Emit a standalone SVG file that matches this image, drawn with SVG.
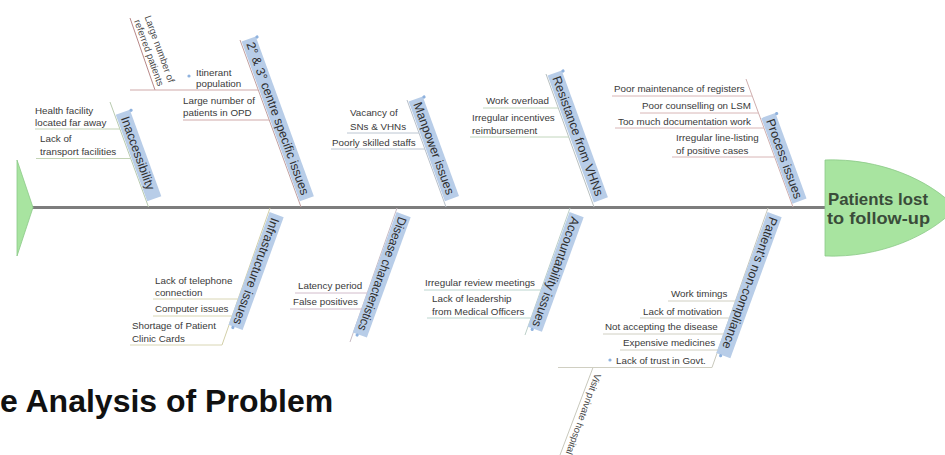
<svg xmlns="http://www.w3.org/2000/svg" width="945" height="455" viewBox="0 0 945 455">
<style>
.sc{font-family:"Liberation Sans",Arial,sans-serif;font-size:9.8px;fill:#3a3a3a}
.ssc{font-family:"Liberation Sans",Arial,sans-serif;font-size:9.6px;fill:#4a4a4a}
.lbl{font-family:"Liberation Sans",Arial,sans-serif;font-size:12.5px;fill:#2f2f2f}
.box{fill:#b8cde8}
.dot{fill:#8fb2de}
.ln{fill:none;stroke-width:1}
.hd{font-family:"Liberation Sans",Arial,sans-serif;font-size:17px;font-weight:bold;fill:#3a4c3a}
.ttl{font-family:"Liberation Sans",Arial,sans-serif;font-size:32px;font-weight:bold;fill:#111}
</style>
<rect width="945" height="455" fill="#ffffff"/>

<g id="connectors">
  <line x1="32" y1="207.5" x2="826" y2="207.5" stroke="#7d7d7d" stroke-width="3"/>
  <line class="ln" x1="110" y1="102" x2="148.5" y2="207" stroke="#b9cbb0"/>
  <line class="ln" x1="240" y1="40" x2="301" y2="207" stroke="#c2a0a0"/>
  <line class="ln" x1="407" y1="100" x2="446" y2="207" stroke="#b8c0ca"/>
  <line class="ln" x1="546" y1="74" x2="594" y2="207" stroke="#b8c0c0"/>
  <line class="ln" x1="746" y1="79" x2="793" y2="207" stroke="#cfaeae"/>
  <line class="ln" x1="270" y1="208" x2="222" y2="345" stroke="#d2cfa8"/>
  <line class="ln" x1="397" y1="208" x2="350" y2="342" stroke="#c9bcc4"/>
  <line class="ln" x1="570" y1="208" x2="525" y2="335" stroke="#bccfc8"/>
  <line class="ln" x1="768" y1="208" x2="712" y2="367.5" stroke="#c8c8bc"/>
  <line class="ln" x1="130" y1="18" x2="155" y2="90" stroke="#b88888"/>
  <line class="ln" x1="593" y1="367.5" x2="560" y2="455" stroke="#c8c8bc"/>
</g>

<g id="tail">
  <polygon points="17,160 33,207.5 17,256" fill="#a8e4a0" stroke="#8cc988" stroke-width="0.8"/>
</g>

<g id="head">
  <path d="M825,160 C880,158 930,180 956,208 C930,236 880,258 825,256 Z" fill="#a8e4a0" stroke="#8cc988" stroke-width="0.8"/>
  <text class="hd" x="828" y="205" textLength="100" lengthAdjust="spacingAndGlyphs">Patients lost</text>
  <text class="hd" x="827" y="224" textLength="103" lengthAdjust="spacingAndGlyphs">to follow-up</text>
</g>

<g id="inaccessibility">
  <g transform="translate(110,102) rotate(70)">
    <rect class="box" x="14" y="-16" width="92" height="15"/>
    <circle class="dot" cx="15" cy="-17" r="1.6"/>
    <text class="lbl" x="19" y="-4.5">Inaccessibility</text>
  </g>
  <g id="c-health-facility">
    <text class="sc" x="35" y="113.5">Health facility</text>
    <text class="sc" x="35" y="125.5">located far away</text>
    <line class="ln" x1="35" y1="129" x2="120" y2="129" stroke="#c3d3b5"/>
  </g>
  <g id="c-transport">
    <text class="sc" x="40" y="142">Lack of</text>
    <text class="sc" x="40" y="154.5">transport facilities</text>
    <line class="ln" x1="36" y1="158.5" x2="130.5" y2="158.5" stroke="#c3d3b5"/>
  </g>
</g>

<g id="centre-issues">
  <g transform="translate(240,40) rotate(70)">
    <rect class="box" x="2" y="-16" width="170" height="15"/>
    <circle class="dot" cx="3" cy="-17" r="1.6"/>
    <text class="lbl" x="6" y="-4.5">2° &amp; 3° centre specific issues</text>
  </g>
  <g id="c-itinerant">
    <circle class="dot" cx="189" cy="76" r="1.6"/>
    <text class="sc" x="196" y="76">Itinerant</text>
    <text class="sc" x="196" y="87">population</text>
    <line class="ln" x1="130" y1="90" x2="258" y2="90" stroke="#cfa9a9"/>
  </g>
  <g id="c-referred">
    <text class="ssc" transform="translate(144.5,17) rotate(70)">Large number of</text>
    <text class="ssc" transform="translate(134,21) rotate(70)">referred patients</text>
  </g>
  <g id="c-opd">
    <text class="sc" x="183" y="104">Large number of</text>
    <text class="sc" x="183" y="116">patients in OPD</text>
    <line class="ln" x1="183" y1="120" x2="269" y2="120" stroke="#cfa9a9"/>
  </g>
</g>

<g id="manpower">
  <g transform="translate(407,100) rotate(70)">
    <rect class="box" x="2" y="-16" width="106" height="15"/>
    <circle class="dot" cx="3" cy="-17" r="1.6"/>
    <text class="lbl" x="6" y="-4.5">Manpower issues</text>
  </g>
  <g id="c-vacancy">
    <text class="sc" x="350" y="116">Vacancy of</text>
    <text class="sc" x="350" y="130">SNs &amp; VHNs</text>
    <line class="ln" x1="347" y1="133" x2="419" y2="133" stroke="#bcc6d2"/>
  </g>
  <g id="c-poorly-skilled">
    <text class="sc" x="332" y="145.5">Poorly skilled staffs</text>
    <line class="ln" x1="331" y1="149" x2="425" y2="149" stroke="#bcc6d2"/>
  </g>
</g>

<g id="resistance">
  <g transform="translate(546,74) rotate(70)">
    <rect class="box" x="2" y="-16" width="135" height="15"/>
    <circle class="dot" cx="3" cy="-17" r="1.6"/>
    <text class="lbl" x="6" y="-4.5">Resistance from VHNs</text>
  </g>
  <g id="c-work-overload">
    <text class="sc" x="486" y="104">Work overload</text>
    <line class="ln" x1="483" y1="108" x2="558" y2="108" stroke="#c2d6bd"/>
  </g>
  <g id="c-incentives">
    <text class="sc" x="472" y="120.5">Irregular incentives</text>
    <text class="sc" x="472" y="133.5">reimbursement</text>
    <line class="ln" x1="470" y1="137" x2="569" y2="137" stroke="#c2d6bd"/>
  </g>
</g>

<g id="process">
  <g transform="translate(746,79) rotate(70)">
    <rect class="box" x="42" y="-16" width="91" height="15"/>
    <circle class="dot" cx="43" cy="-17" r="1.6"/>
    <text class="lbl" x="46" y="-4.5">Process issues</text>
  </g>
  <g id="c-registers">
    <text class="sc" x="614" y="92">Poor maintenance of registers</text>
    <line class="ln" x1="612" y1="96" x2="752" y2="96" stroke="#d8b6b6"/>
  </g>
  <g id="c-counselling">
    <text class="sc" x="642" y="108.5">Poor counselling on LSM</text>
    <line class="ln" x1="640" y1="113" x2="758" y2="113" stroke="#d8b6b6"/>
  </g>
  <g id="c-documentation">
    <text class="sc" x="618" y="125">Too much documentation work</text>
    <line class="ln" x1="615" y1="128" x2="764" y2="128" stroke="#d8b6b6"/>
  </g>
  <g id="c-line-listing">
    <text class="sc" x="676" y="141">Irregular line-listing</text>
    <text class="sc" x="676" y="154">of positive cases</text>
    <line class="ln" x1="672" y1="157" x2="774" y2="157" stroke="#d8b6b6"/>
  </g>
</g>

<g id="infrastructure">
  <g transform="translate(270,208) rotate(110)">
    <rect class="box" x="4" y="-16" width="120" height="15"/>
    <circle class="dot" cx="125" cy="-6" r="1.6"/>
    <text class="lbl" x="8" y="-4.5">Infrastructure issues</text>
  </g>
  <g id="c-telephone">
    <text class="sc" x="155" y="283.5">Lack of telephone</text>
    <text class="sc" x="155" y="296">connection</text>
    <line class="ln" x1="153" y1="299" x2="238" y2="299" stroke="#d9d6b4"/>
  </g>
  <g id="c-computer">
    <text class="sc" x="155" y="311.5">Computer issues</text>
    <line class="ln" x1="153" y1="316" x2="232" y2="316" stroke="#d9d6b4"/>
  </g>
  <g id="c-clinic-cards">
    <text class="sc" x="132" y="328.5">Shortage of Patient</text>
    <text class="sc" x="132" y="341.5">Clinic Cards</text>
    <line class="ln" x1="130" y1="345" x2="222" y2="345" stroke="#d9d6b4"/>
  </g>
</g>

<g id="disease">
  <g transform="translate(397,208) rotate(110)">
    <rect class="box" x="4" y="-16" width="128" height="15"/>
    <circle class="dot" cx="133" cy="-6" r="1.6"/>
    <text class="lbl" x="7" y="-4.5" textLength="120" lengthAdjust="spacingAndGlyphs">Disease characteristics</text>
  </g>
  <g id="c-latency">
    <text class="sc" x="298" y="288.5">Latency period</text>
    <line class="ln" x1="295" y1="293" x2="367" y2="293" stroke="#d2bccb"/>
  </g>
  <g id="c-false-positives">
    <text class="sc" x="293" y="304.5">False positives</text>
    <line class="ln" x1="290" y1="309" x2="362" y2="309" stroke="#d2bccb"/>
  </g>
</g>

<g id="accountability">
  <g transform="translate(570,208) rotate(110)">
    <rect class="box" x="4" y="-16" width="122" height="15"/>
    <circle class="dot" cx="127" cy="-6" r="1.6"/>
    <text class="lbl" x="7" y="-4.5">Accountability issues</text>
  </g>
  <g id="c-review">
    <text class="sc" x="425" y="285.5">Irregular review meetings</text>
    <line class="ln" x1="424" y1="290" x2="541" y2="290" stroke="#bcd6cf"/>
  </g>
  <g id="c-leadership">
    <text class="sc" x="432" y="301.5">Lack of leadership</text>
    <text class="sc" x="432" y="314.5">from Medical Officers</text>
    <line class="ln" x1="427" y1="318" x2="531" y2="318" stroke="#bcd6cf"/>
  </g>
</g>

<g id="non-compliance">
  <g transform="translate(768,208) rotate(110)">
    <rect class="box" x="4" y="-16" width="150" height="15"/>
    <circle class="dot" cx="155" cy="-6" r="1.6"/>
    <text class="lbl" x="7" y="-4.5">Patient's non-compliance</text>
  </g>
  <g id="c-work-timings">
    <text class="sc" x="671" y="296.5">Work timings</text>
    <line class="ln" x1="668" y1="301" x2="735" y2="301" stroke="#d0cfc2"/>
  </g>
  <g id="c-motivation">
    <text class="sc" x="643" y="314.5">Lack of motivation</text>
    <line class="ln" x1="640" y1="318" x2="729" y2="318" stroke="#d0cfc2"/>
  </g>
  <g id="c-not-accepting">
    <text class="sc" x="605" y="329.5">Not accepting the disease</text>
    <line class="ln" x1="603" y1="334" x2="724" y2="334" stroke="#d0cfc2"/>
  </g>
  <g id="c-expensive">
    <text class="sc" x="623" y="345.5">Expensive medicines</text>
    <line class="ln" x1="620" y1="350" x2="718" y2="350" stroke="#d0cfc2"/>
  </g>
  <g id="c-trust">
    <circle class="dot" cx="610" cy="360" r="1.6"/>
    <text class="sc" x="616" y="363.5">Lack of trust in Govt.</text>
    <line class="ln" x1="558" y1="367.5" x2="712" y2="367.5" stroke="#d0cfc2"/>
  </g>
  <g id="c-private-hospital">
    <text class="ssc" transform="translate(595,373) rotate(110)">Visit private hospital</text>
  </g>
</g>

<g id="title">
  <text class="ttl" x="0" y="412">e Analysis of Problem</text>
</g>
</svg>
